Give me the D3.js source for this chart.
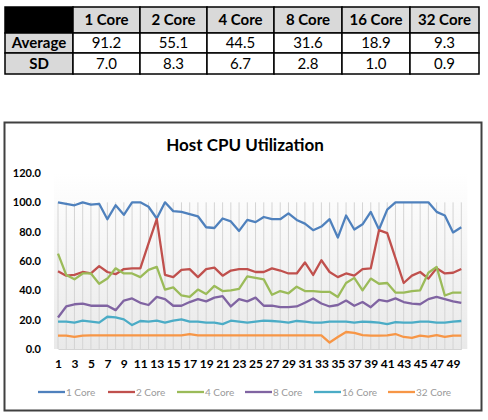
<!DOCTYPE html>
<html>
<head>
<meta charset="utf-8">
<script src="https://cdn.jsdelivr.net/npm/d3@7"></script>
<style>
  body { margin: 0; background: #fff; }
  svg { display: block; font-family: Lato, "Open Sans", sans-serif; }
</style>
</head>
<body>
<div id="chart"></div>
<script>
// summary table
const cores = ["1 Core", "2 Core", "4 Core", "8 Core", "16 Core", "32 Core"];
const averages = ["91.2", "55.1", "44.5", "31.6", "18.9", "9.3"];
const sds = ["7.0", "8.3", "6.7", "2.8", "1.0", "0.9"];
const rowLabels = ["Average", "SD"];

// line chart
const samples = [1,2,3,4,5,6,7,8,9,10,11,12,13,14,15,16,17,18,19,20,21,22,23,24,25,
                 26,27,28,29,30,31,32,33,34,35,36,37,38,39,40,41,42,43,44,45,46,47,48,49,50];
const yTicks = [0, 20, 40, 60, 80, 100, 120];
const xTickLabels = [1,3,5,7,9,11,13,15,17,19,21,23,25,27,29,31,33,35,37,39,41,43,45,47,49];

const core1 = [100,99,98,100,98.5,99,88.5,98,91.5,100,100,97,89,100,94,93.5,92,90.5,83,82.5,
               89,87,80.5,88,86.5,90,88.5,88.5,92.5,88,85.5,81,83.5,88.5,76,91,81.5,85,93.5,81.5,
               95,100,100,100,100,100,93.5,91,79.5,83];
const core2 = [53,50,50.5,52.5,51.5,56.5,52.5,51,54.5,55,55,72,88.5,50.5,49,54,54.5,49,54.5,55.5,
               50,53.5,54.5,54.5,52.5,52.5,55,53.5,51.5,51.5,59,50.5,60.5,52.5,49,51.5,50,54.5,55,81,
               79,62,45,50,52.5,48,55,51.5,52,54.5];
const core4 = [65,50.5,47.5,51.5,51.5,44.5,48,55,51.5,51.5,49,54,56,40.5,42,36.5,35.5,40.5,37.5,43,
               39.5,40,41,49.5,48.5,47.5,37,39.5,38,42.5,39.5,39.5,39,39,35.5,45,48.5,40,48,44.5,
               45,38.5,38.5,39.5,40,52,56,36.5,38.5,38.5];
const core8 = [21.5,29,30.5,31,29.5,29.5,29.5,26.5,33,34.5,31.5,30,35.5,34,29.5,29.5,32,34,32.5,35,
               36,29,34,32.5,35,29.5,29.5,28.5,28.5,29,31.5,34.5,31,29,30,33,29.5,32,28.5,33.5,
               32.5,34.5,32,31,30.5,34,35.5,34,32.5,31.5];
const core16 = [18.6,18.6,18,19.3,18.6,18,22,21.6,20.2,16.3,19.1,18.6,19.3,18,19.3,20.2,18.6,18.6,18,18,
                17,19.3,18.6,18,18.6,19.3,19.1,18.6,18,19.1,18.6,18,18,18.6,18.6,18.6,18,18.6,18.4,18,
                17,18.3,18,18,18.6,18.6,18,18,18.6,19.1];
const core32 = [9.1,9.1,8.2,9.1,9.3,9.3,9.3,9.3,9.3,9.3,9.3,9.3,9.3,9.3,9.3,9.3,10.2,9.3,9.3,9.3,
                9.3,9.3,9.3,9.3,9.3,9.3,9.3,9.3,9.3,9.3,9.3,9.3,9.3,4.4,8.2,11.6,11,9.4,9.1,9.1,
                9.3,10.2,8.2,7.6,9.1,8.4,9.5,8.2,9.1,9.1];

const seriesValues = [core1, core2, core4, core8, core16, core32];
const colors = ["#4F81BD", "#C0504D", "#9BBB59", "#8064A2", "#4BACC6", "#F79646"];

const width = 488, height = 420;

const svg = d3.select("#chart").append("svg")
    .attr("width", width)
    .attr("height", height);

// ---------- table ----------
const colEdges = [5, 73, 140, 207, 274, 342, 410, 479];
const rowEdges = [7, 33, 53, 74];

const tableRows = [
    ["", ...cores],
    [rowLabels[0], ...averages],
    [rowLabels[1], ...sds]
];

const table = svg.append("g").attr("class", "table");

tableRows.forEach((row, r) => {
    row.forEach((txt, c) => {
        const x0 = colEdges[c], x1 = colEdges[c + 1];
        const y0 = rowEdges[r], y1 = rowEdges[r + 1];
        let fill = "#fff";
        if (r === 0 && c === 0) fill = "#000";
        else if (r === 0 || c === 0) fill = "#d9d9d9";
        table.append("rect")
            .attr("x", x0).attr("y", y0)
            .attr("width", x1 - x0).attr("height", y1 - y0)
            .attr("fill", fill)
            .attr("stroke", "#000")
            .attr("stroke-width", 1.5);
        table.append("text")
            .attr("x", (x0 + x1) / 2)
            .attr("y", (y0 + y1) / 2 + 5)
            .attr("text-anchor", "middle")
            .attr("font-size", 15)
            .attr("font-weight", (r === 0 || c === 0) ? 700 : 400)
            .attr("fill", "#000")
            .text(txt);
    });
});

// ---------- chart frame ----------
svg.append("rect")
    .attr("x", 4.5).attr("y", 122.5)
    .attr("width", 477).attr("height", 288)
    .attr("fill", "#fff")
    .attr("stroke", "#404040")
    .attr("stroke-width", 2);

svg.append("text")
    .attr("x", 245)
    .attr("y", 151)
    .attr("text-anchor", "middle")
    .attr("font-size", 17)
    .attr("font-weight", 700)
    .text("Host CPU Utilization");

const x = d3.scaleLinear().domain([1, 50]).range([58, 461.3]);
const y = d3.scaleLinear().domain([0, 120]).range([349, 173]);

// plot background gradient
const grad = svg.append("defs").append("linearGradient")
    .attr("id", "plotbg")
    .attr("x1", 0).attr("y1", 0).attr("x2", 0).attr("y2", 1);
grad.append("stop").attr("offset", "0%").attr("stop-color", "#ffffff");
grad.append("stop").attr("offset", "100%").attr("stop-color", "#e9e9e9");

svg.append("rect")
    .attr("x", x(1) - 4).attr("y", y(120))
    .attr("width", x(50) - x(1) + 10)
    .attr("height", y(0) - y(120))
    .attr("fill", "url(#plotbg)");

// vertical gridlines at each sample
svg.append("g")
    .selectAll("line")
    .data(samples)
    .join("line")
    .attr("x1", d => x(d)).attr("x2", d => x(d))
    .attr("y1", y(100)).attr("y2", y(0))
    .attr("stroke", "#d4d4d4")
    .attr("stroke-width", 1);

// y axis
const yAxis = svg.append("g")
    .attr("transform", `translate(${x(1) - 14},0)`)
    .call(d3.axisLeft(y).tickValues(yTicks).tickFormat(d3.format(".1f")).tickSize(0));
yAxis.select(".domain").remove();
yAxis.selectAll("text")
    .attr("font-family", "Lato, sans-serif")
    .attr("font-size", 11)
    .attr("font-weight", 700)
    .attr("fill", "#000");

// x axis
const xAxis = svg.append("g")
    .attr("transform", `translate(0,${y(0)})`)
    .call(d3.axisBottom(x).tickValues(xTickLabels).tickFormat(d3.format("d")).tickSize(0));
xAxis.select(".domain")
    .attr("stroke", "#d4d4d4");
xAxis.selectAll("text")
    .attr("dy", "1.3em")
    .attr("font-family", "Lato, sans-serif")
    .attr("font-size", 12)
    .attr("font-weight", 700)
    .attr("fill", "#000");

// lines
const line = d3.line()
    .x((d, i) => x(samples[i]))
    .y(d => y(d));

svg.append("g")
    .selectAll("path")
    .data(seriesValues)
    .join("path")
    .attr("d", line)
    .attr("fill", "none")
    .attr("stroke", (d, i) => colors[i])
    .attr("stroke-width", 2.3)
    .attr("stroke-linejoin", "round");

// legend
const legendX = [38, 108, 177, 245, 314, 388];
const legend = svg.append("g")
    .selectAll("g")
    .data(cores)
    .join("g")
    .attr("transform", (d, i) => `translate(${legendX[i]},392)`);
legend.append("line")
    .attr("x1", 0).attr("x2", 27)
    .attr("stroke", (d, i) => colors[i])
    .attr("stroke-width", 2.3);
legend.append("text")
    .attr("x", 28)
    .attr("y", 4)
    .attr("font-size", 10)
    .attr("fill", "#9a9a9a")
    .text(d => d);
</script>
</body>
</html>
